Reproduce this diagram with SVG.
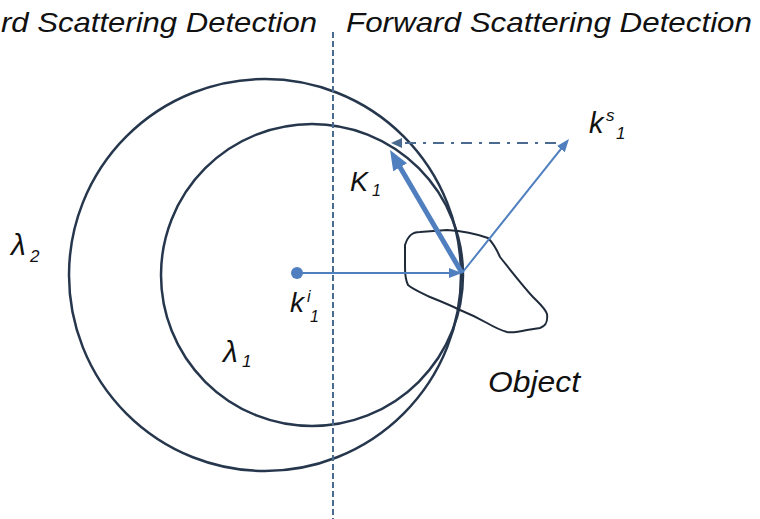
<svg xmlns="http://www.w3.org/2000/svg" width="760" height="519" viewBox="0 0 760 519">
<defs>
<style>
.lbl{font-family:"Liberation Sans",Arial,sans-serif;font-style:italic;fill:#111;}
.ring{fill:none;stroke:#26374d;stroke-width:2.5;}
.vec{fill:none;stroke:#4f7fbf;stroke-width:2;}
.vec-thick{fill:none;stroke:#4f7fbf;stroke-width:5;}
.guide{fill:none;stroke:#4a6a90;stroke-width:2;}
</style>
<marker id="ah" markerUnits="userSpaceOnUse" markerWidth="14" markerHeight="12" refX="5" refY="5" orient="auto"><path d="M0,0 L13,5 L0,10 z" fill="#4f7fbf"/></marker>
<marker id="ahBig" markerUnits="userSpaceOnUse" markerWidth="22" markerHeight="18" refX="8" refY="8" orient="auto"><path d="M0,0 L20,8 L0,16 z" fill="#4f7fbf"/></marker>
<marker id="ahGuide" markerUnits="userSpaceOnUse" markerWidth="12" markerHeight="12" refX="4" refY="5" orient="auto"><path d="M0,0 L11,5 L0,10 z" fill="#4a6a90"/></marker>
</defs>
<rect width="760" height="519" fill="#ffffff"/>

<g id="headers">
<text class="lbl" x="1" y="32" font-size="28" textLength="316" lengthAdjust="spacingAndGlyphs">rd Scattering Detection</text>
<text class="lbl" x="346" y="32" font-size="28" textLength="406" lengthAdjust="spacingAndGlyphs">Forward Scattering Detection</text>
</g>

<g id="circle-lambda2">
<circle class="ring" cx="265" cy="275" r="196"/>
<text class="lbl" x="11" y="255" font-size="30">λ</text><text class="lbl" x="30" y="262" font-size="17">2</text>
</g>

<g id="circle-lambda1">
<circle class="ring" cx="312" cy="275" r="151"/>
<text class="lbl" x="223" y="362" font-size="30">λ</text><text class="lbl" x="242" y="367" font-size="17">1</text>
</g>

<g id="object">
<path d="M405,245 C408,236 412,232 420,232 L447,230 C462,231 474,233 488,238 C494,244 497,250 500,257 C512,272 522,285 533,297 C540,304 545,308 547,314 C548,322 546,326 540,328 L527,330 C518,332 512,333 507,332 C500,330 494,327 487,323 C478,318 470,314 460,310 C450,305 440,301 430,297 C422,293 414,290 408,285 C405,279 405,273 405,267 Z" fill="none" stroke="#1f2b3a" stroke-width="2"/>
<text class="lbl" x="488" y="392" font-size="29" textLength="92" lengthAdjust="spacingAndGlyphs">Object</text>
</g>

<g id="source">
<circle cx="297" cy="273" r="6" fill="#4f7fbf"/>
<text class="lbl" x="290" y="312" font-size="28">k</text><text class="lbl" x="307" y="302" font-size="16">i</text><text class="lbl" x="310" y="322" font-size="16">1</text>
</g>

<g id="connectors">
<line class="guide" x1="333" y1="32" x2="333" y2="519" stroke-dasharray="6,3"/>
<line class="vec" x1="297" y1="273" x2="454" y2="273" marker-end="url(#ah)"/>
<line class="vec-thick" x1="462" y1="273" x2="396.1" y2="160.4" marker-end="url(#ahBig)"/>
<line class="vec" x1="462" y1="273" x2="564" y2="145.2" marker-end="url(#ah)"/>
<line class="guide" x1="556" y1="143" x2="398" y2="143" stroke-dasharray="11,7,3,7" marker-end="url(#ahGuide)"/>
</g>

<g id="label-K1">
<text class="lbl" x="350" y="191" font-size="27">K</text><text class="lbl" x="372" y="196" font-size="16">1</text>
</g>
<g id="label-ks1">
<text class="lbl" x="589" y="133" font-size="29">k</text><text class="lbl" x="606" y="121" font-size="17">s</text><text class="lbl" x="616" y="139" font-size="17">1</text>
</g>
</svg>
